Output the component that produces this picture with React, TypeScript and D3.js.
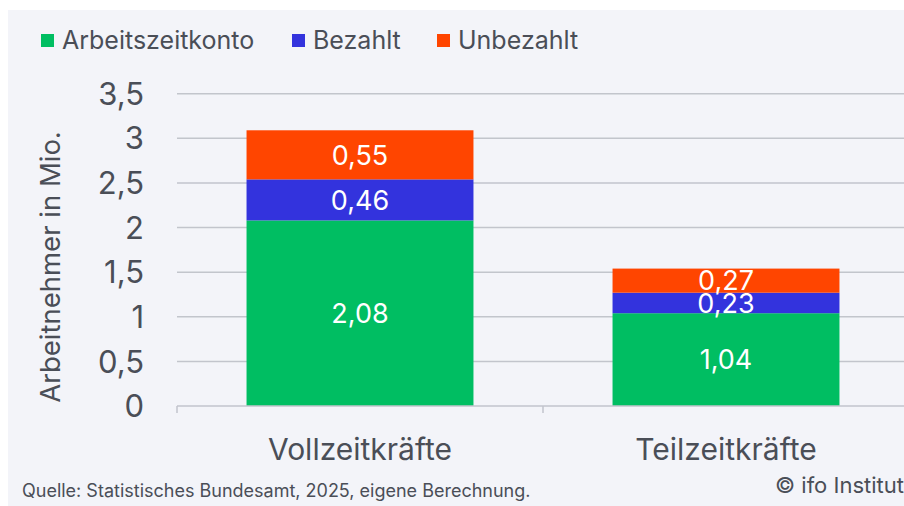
import {useEffect, useRef} from "react";
import * as d3 from "d3";

const SvgWidth = 904;
const SvgHeight = 506;

const categories = ["Vollzeitkräfte", "Teilzeitkräfte"];
const seriesNames = ["Arbeitszeitkonto", "Bezahlt", "Unbezahlt"];
const arbeitszeitkonto = [2.08, 1.04];
const bezahlt = [0.46, 0.23];
const unbezahlt = [0.55, 0.27];
const yTicks = [0, 0.5, 1, 1.5, 2, 2.5, 3, 3.5];

const colors = ["#00BE62", "#3333DD", "#FF4500"];
const textColor = "#4A4E57";
const gridColor = "#C2C5CC";
const bgColor = "#F3F4F9";
const font = "Inter, 'Noto Sans', sans-serif";

const fmt = (v: number) => v.toFixed(2).replace(".", ",");

function App() {
    const svgRef = useRef(null);

    useEffect(() => {
        const svg = d3.select(svgRef.current);
        svg.selectAll("*").remove();

        const left = 177;
        const right = 909;
        const top = 93.7;
        const bottom = 406;

        const x = d3.scaleBand().domain(categories).range([left, right]).paddingInner(0.38).paddingOuter(0.19);
        const y = d3.scaleLinear().domain([0, 3.5]).range([bottom, top]);

        svg.append("rect").attr("x", 8).attr("y", 10).attr("width", SvgWidth).attr("height", SvgHeight)
            .attr("fill", bgColor);

        // grid
        svg.append("g").selectAll("line").data(yTicks.filter(t => t > 0)).join("line")
            .attr("x1", left).attr("x2", SvgWidth)
            .attr("y1", d => y(d)).attr("y2", d => y(d))
            .attr("stroke", gridColor).attr("stroke-width", 1.5);

        // y tick labels
        svg.append("g").selectAll("text").data(yTicks).join("text")
            .attr("x", 144).attr("y", d => y(d)).attr("dy", "0.36em")
            .attr("text-anchor", "end").attr("font-size", 31).attr("font-family", font)
            .attr("fill", textColor).text(d => String(d).replace(".", ","));

        // stacked bars
        const rows = categories.map((c, i) => ({
            cat: c, Arbeitszeitkonto: arbeitszeitkonto[i], Bezahlt: bezahlt[i], Unbezahlt: unbezahlt[i]
        }));
        const stack = d3.stack().keys(seriesNames)(rows as any);
        stack.forEach((layer, li) => {
            const g = svg.append("g");
            g.selectAll("rect").data(layer).join("rect")
                .attr("x", (d: any) => x(d.data.cat))
                .attr("width", x.bandwidth())
                .attr("y", d => y(d[1]))
                .attr("height", d => y(d[0]) - y(d[1]))
                .attr("fill", colors[li]);
            g.selectAll("text").data(layer).join("text")
                .attr("x", (d: any) => x(d.data.cat) + x.bandwidth() / 2)
                .attr("y", d => (y(d[0]) + y(d[1])) / 2).attr("dy", "0.36em")
                .attr("text-anchor", "middle").attr("font-size", 27).attr("font-family", font)
                .attr("fill", "#fff").text(d => fmt(d[1] - d[0]));
        });

        // x axis
        svg.append("line").attr("x1", left).attr("x2", SvgWidth).attr("y1", bottom).attr("y2", bottom)
            .attr("stroke", gridColor).attr("stroke-width", 1.5);
        const step = x.step();
        svg.append("g").selectAll("line").data([0, 1]).join("line")
            .attr("x1", d => left + d * step).attr("x2", d => left + d * step)
            .attr("y1", bottom).attr("y2", bottom + 7)
            .attr("stroke", gridColor).attr("stroke-width", 1.5);
        svg.append("g").selectAll("text").data(categories).join("text")
            .attr("x", d => x(d) + x.bandwidth() / 2).attr("y", 460)
            .attr("text-anchor", "middle").attr("font-size", 30).attr("font-family", font)
            .attr("fill", textColor).text(d => d);

        // y title
        svg.append("text")
            .attr("transform", `translate(60, 267) rotate(-90)`)
            .attr("text-anchor", "middle").attr("font-size", 27.5).attr("font-family", font)
            .attr("fill", textColor).text("Arbeitnehmer in Mio.");

        // legend
        const legendX = [41, 292, 437];
        seriesNames.forEach((s, i) => {
            svg.append("rect").attr("x", legendX[i]).attr("y", 34).attr("width", 13).attr("height", 13)
                .attr("fill", colors[i]);
            svg.append("text").attr("x", legendX[i] + 21).attr("y", 40).attr("dy", "0.36em")
                .attr("font-size", 25).attr("font-family", font).attr("fill", textColor).text(s);
        });

        svg.append("text").attr("x", 22).attr("y", 497).attr("font-size", 18).attr("font-family", font)
            .attr("fill", textColor).text("Quelle: Statistisches Bundesamt, 2025, eigene Berechnung.");
        svg.append("text").attr("x", 775).attr("y", 493).attr("font-size", 22).attr("font-family", font)
            .attr("fill", textColor).text("© ifo Institut");
    }, []);

    return (
        <svg ref={svgRef} width={SvgWidth} height={SvgHeight}
             style={{position: "absolute", left: 0, top: 0}}></svg>
    );
}

export default App;
